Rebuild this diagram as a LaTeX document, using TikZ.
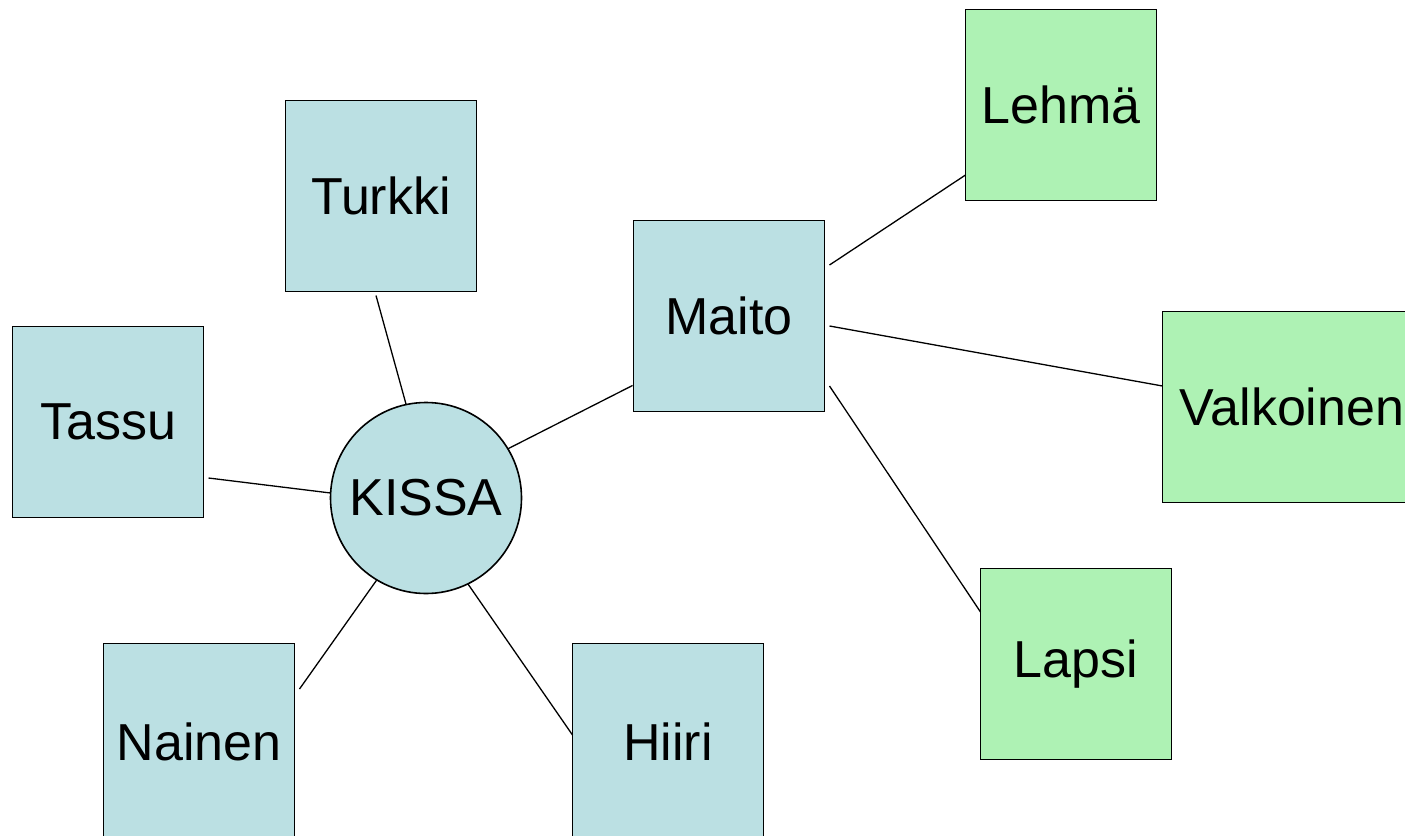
\documentclass[tikz,border=0pt]{standalone}
\usepackage{fontspec}
\setmainfont{Liberation Sans}
\definecolor{boxblue}{HTML}{BBE0E3}
\definecolor{boxgreen}{HTML}{AEF2B4}
\begin{document}
\begin{tikzpicture}[x=1pt,y=-1pt,
  every node/.style={font=\fontsize{52}{62}\selectfont, inner sep=0pt, outer sep=0pt},
  bluebox/.style={draw=black, line width=1.6pt, fill=boxblue, minimum width=191pt, minimum height=191pt},
  greenbox/.style={draw=black, line width=1.6pt, fill=boxgreen, minimum width=191pt, minimum height=191pt},
  link/.style={draw=black, line width=1.3pt}]
\useasboundingbox (0,0) rectangle (1405,835);
\clip (0,0) rectangle (1405,835);
\node[bluebox] (turkki) at (381,196) {Turkki};
\node[bluebox] (tassu) at (108,422) {Tassu};
\node[bluebox] (maito) at (729,316) {Maito};
\node[bluebox, minimum height=197pt] (nainen) at (199,742) {Nainen};
\node[bluebox, minimum height=197pt] (hiiri) at (668,742) {Hiiri};
\node[greenbox] (lehma) at (1061,105) {Lehmä};
\node[greenbox, minimum width=259pt] (valkoinen) at (1292,407) {Valkoinen};
\node[greenbox] (lapsi) at (1076,664) {Lapsi};
\node[circle, draw=black, line width=1.6pt, fill=boxblue, minimum size=191pt] (kissa) at (426,498) {KISSA};
\draw[link] ([shift={(-5,4)}]turkki.south) -- (kissa.102);
\draw[link] ([shift={(5,56)}]tassu.east) -- (kissa.177);
\draw[link] (kissa.31) -- ([shift={(-1,-26)}]maito.south west);
\draw[link] ([shift={(5,-53)}]nainen.east) -- (kissa.239);
\draw[link] (kissa.296) -- ([shift={(0,-7)}]hiiri.west);
\draw[link] ([shift={(5,-51)}]maito.east) -- ([shift={(0,70)}]lehma.west);
\draw[link] ([shift={(5,10)}]maito.east) -- ([shift={(0,-21)}]valkoinen.west);
\draw[link] ([shift={(5,70)}]maito.east) -- ([shift={(0,-52)}]lapsi.west);
\end{tikzpicture}
\end{document}
